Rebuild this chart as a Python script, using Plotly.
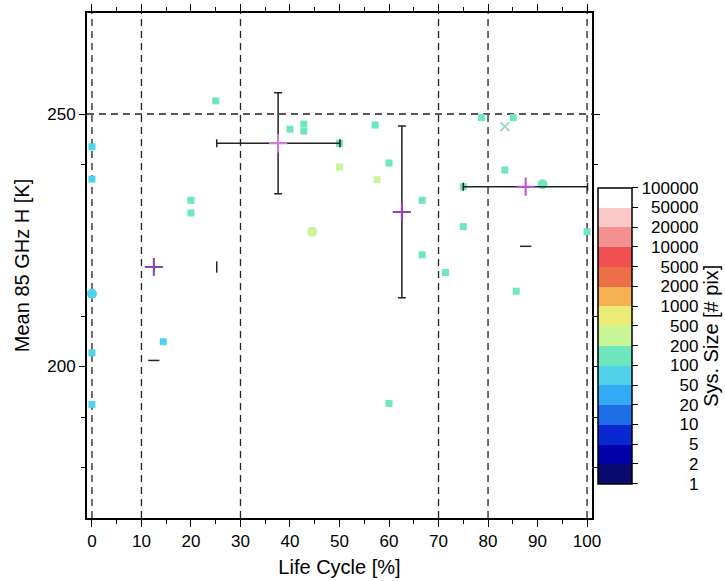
import numpy as np
import plotly.graph_objects as go

# ---------------- data ----------------
# individual systems
sq_x = [0, 0, 0, 0, 14.4, 20, 20, 25, 40, 42.8, 42.8, 50, 50, 57.2, 57.6, 60, 60,
        66.7, 66.7, 71.4, 75, 75, 78.7, 85.1, 83.4, 85.7, 100]
sq_y = [243.5, 237.1, 202.7, 192.5, 204.9, 232.9, 230.4, 252.6, 247.0, 248.0, 246.6,
        244.2, 239.5, 247.8, 237.0, 240.3, 192.7, 232.9, 222.1, 218.6, 235.6, 227.7,
        249.3, 249.3, 238.9, 214.9, 226.7]
sq_size = [80, 80, 80, 80, 80, 150, 150, 150, 150, 150, 150, 150, 300, 150, 300, 150,
           150, 150, 150, 150, 150, 150, 150, 150, 150, 150, 150]

ci_x = [0, 44.5, 91]
ci_y = [214.4, 226.7, 236.1]
ci_size = [80, 300, 150]

xm_x = [83.4]
xm_y = [247.5]
xm_size = [150]

# group means with spread
mean_x = [12.5, 37.6, 62.6, 87.6]
mean_y = [219.7, 244.2, 230.6, 235.6]
mean_ex_minus = [0, 12.4, 0, 12.6]
mean_ex_plus = [0, 12.5, 0, 12.5]
mean_ey_minus = [0, 10.0, 17.0, 0]
mean_ey_plus = [0, 10.0, 17.0, 0]

# isolated error-bar caps
capv_x = [25.2]
capv_y = [219.7]
caph_x = [12.5, 87.6]
caph_y = [201.2, 223.8]

# reference lines
ref_x = [0, 10, 30, 70, 80, 100]
ref_y = [250]

# colour bar bins
bin_edges = [1, 2, 5, 10, 20, 50, 100, 200, 500, 1000, 2000, 5000, 10000, 20000, 50000, 100000]
bin_colors = ["#0a0a6e", "#0000a8", "#0a28d2", "#1e6ee6", "#32aaf5", "#50d2eb",
              "#6ee6be", "#c8f596", "#ebeb78", "#f5b050", "#eb6e46", "#f05050",
              "#f59090", "#fac8c8", "#ffffff"]
mean_colors = ["#8a44b0", "#d07ee0", "#9040c0", "#c050d0"]

# ---------------- helpers ----------------
nb = len(bin_colors)
colorscale = []
for i, c in enumerate(bin_colors):
    colorscale.append([i / nb, c])
    colorscale.append([(i + 1) / nb, c])

maxlen = max(len(str(v)) for v in bin_edges)
# right-aligned labels (figure spaces have digit width)
bin_labels = ["\u2007" * (maxlen - len(str(v))) + str(v) for v in bin_edges]


def to_bin(vals):
    idx = np.searchsorted(bin_edges, vals, side="right") - 1
    return (idx + 0.5).tolist()


FONT = "Liberation Sans, Arial, sans-serif"

fig = go.Figure()

fig.add_trace(go.Scatter(
    x=sq_x, y=sq_y, mode="markers",
    marker=dict(symbol="square", size=7, color=to_bin(sq_size), coloraxis="coloraxis",
                line=dict(width=0)),
    showlegend=False))
fig.add_trace(go.Scatter(
    x=ci_x, y=ci_y, mode="markers",
    marker=dict(symbol="circle", size=10, color=to_bin(ci_size), coloraxis="coloraxis",
                line=dict(width=0)),
    showlegend=False))
fig.add_trace(go.Scatter(
    x=xm_x, y=xm_y, mode="markers",
    marker=dict(symbol="x-thin", size=9, color="#8fd6c4",
                line=dict(width=1.5, color="#8fd6c4")),
    showlegend=False))

fig.add_trace(go.Scatter(
    x=mean_x, y=mean_y, mode="markers",
    marker=dict(symbol="cross-thin", size=13, color=mean_colors,
                line=dict(width=2, color=mean_colors)),
    error_x=dict(type="data", symmetric=False, array=mean_ex_plus,
                 arrayminus=mean_ex_minus, color="#222222", thickness=1.5, width=4),
    error_y=dict(type="data", symmetric=False, array=mean_ey_plus,
                 arrayminus=mean_ey_minus, color="#222222", thickness=1.5, width=4),
    showlegend=False))

fig.add_trace(go.Scatter(
    x=capv_x, y=capv_y, mode="markers",
    marker=dict(symbol="line-ns", size=8, line=dict(width=1.5, color="#222222")),
    showlegend=False))
fig.add_trace(go.Scatter(
    x=caph_x, y=caph_y, mode="markers",
    marker=dict(symbol="line-ew", size=8, line=dict(width=1.5, color="#222222")),
    showlegend=False))

for xv in ref_x:
    fig.add_vline(x=xv, line=dict(color="#222222", width=1.3, dash="7px,5px"), layer="below")
for yv in ref_y:
    fig.add_hline(y=yv, line=dict(color="#222222", width=1.3, dash="7px,5px"), layer="below")

fig.update_layout(
    width=725, height=581,
    margin=dict(l=87, r=133, t=13, b=63, autoexpand=False),
    paper_bgcolor="white", plot_bgcolor="white",
    font=dict(family=FONT, color="black", size=17),
    coloraxis=dict(
        colorscale=colorscale, cmin=0, cmax=nb,
        colorbar=dict(
            x=1.012, xanchor="left", xpad=0,
            y=(518.3 - 484) / 505, yanchor="bottom", ypad=0,
            len=296, lenmode="pixels",
            thickness=34, thicknessmode="pixels",
            outlinecolor="black", outlinewidth=1.5,
            tickmode="array", tickvals=list(range(nb + 1)), ticktext=bin_labels,
            ticks="outside", ticklen=6, tickcolor="black", tickwidth=1,
            tickfont=dict(family=FONT, size=17, color="black"),
            title=dict(text="Sys. Size [# pix]", side="right",
                       font=dict(family=FONT, size=20, color="black")),
        ),
    ),
    xaxis=dict(
        range=[-1, 101], tickmode="array", tickvals=list(range(0, 101, 10)),
        showgrid=False, zeroline=False, automargin=False,
        showline=True, linecolor="black", linewidth=2, mirror="ticks",
        ticks="outside", ticklen=7, tickwidth=1.2, tickcolor="black",
        minor=dict(tickvals=list(range(5, 100, 10)), ticks="outside", ticklen=4,
                   tickcolor="black", tickwidth=1.2, showgrid=False),
        tickfont=dict(size=17),
        title=dict(text="Life Cycle [%]", font=dict(size=20), standoff=10),
    ),
    yaxis=dict(
        range=[170, 270], tickmode="array", tickvals=[200, 250],
        showgrid=False, zeroline=False, automargin=False,
        showline=True, linecolor="black", linewidth=2, mirror="ticks",
        ticks="outside", ticklen=6, tickwidth=1.2, tickcolor="black",
        minor=dict(tickvals=[180, 190, 210, 240], ticks="outside", ticklen=4,
                   tickcolor="black", tickwidth=1.2, showgrid=False),
        tickfont=dict(size=17),
        title=dict(text="Mean 85 GHz H [K]", font=dict(size=20), standoff=12),
    ),
)

fig.write_html("out.html")
